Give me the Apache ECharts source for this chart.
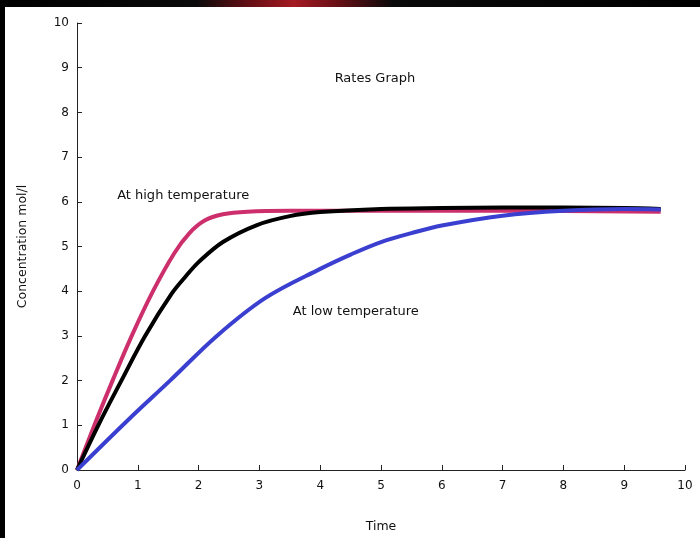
<!DOCTYPE html>
<html><head><meta charset="utf-8">
<script src="https://cdn.jsdelivr.net/npm/echarts@6/dist/echarts.min.js"></script>
<style>html,body{margin:0;padding:0;background:#fff;}#c{width:700px;height:538px;}</style>
</head><body><div id="c"></div>
<script>
var xTicks = [0,1,2,3,4,5,6,7,8,9,10];
var yTicks = [0,1,2,3,4,5,6,7,8,9,10];
var highX = [0, 0.3, 0.6, 0.9, 1.25, 1.6, 1.85, 2.1, 2.4, 2.8, 3.5, 5, 7, 9.6];
var highY = [0, 1.05, 2.05, 3.0, 4.0, 4.85, 5.3, 5.58, 5.72, 5.78, 5.8, 5.8, 5.8, 5.78];
var midX = [0, 0.35, 0.73, 1.12, 1.56, 1.8, 2.0, 2.4, 2.96, 3.5, 4, 5, 6, 7, 8, 9, 9.6];
var midY = [0, 1, 2, 3, 3.95, 4.35, 4.65, 5.1, 5.48, 5.68, 5.77, 5.84, 5.86, 5.87, 5.87, 5.86, 5.84];
var lowX = [0, 0.84, 1.53, 2.3, 3.1, 4, 4.5, 5, 5.5, 6, 7, 8, 9, 9.6];
var lowY = [0, 1.12, 2, 3, 3.85, 4.5, 4.82, 5.1, 5.3, 5.47, 5.69, 5.8, 5.84, 5.83];
var title = "Rates Graph";
var xName = "Time";
var yName = "Concentration mol/l";
var highLabel = "At high temperature";
var lowLabel = "At low temperature";

function pairs(xs, ys){ return xs.map(function(x,i){return [x, ys[i]];}); }
var font = "'DejaVu Sans', sans-serif";
var chart = echarts.init(document.getElementById('c'));
var axisCommon = {
  axisLine:{show:true, onZero:false, lineStyle:{color:'#222', width:1}},
  axisTick:{show:true, inside:true, length:5, lineStyle:{color:'#222'}},
  splitLine:{show:false},
  axisLabel:{color:'#111', fontSize:12, fontFamily:font},
  nameTextStyle:{color:'#111', fontSize:12.5, fontFamily:font}
};
chart.setOption({
  backgroundColor:'#fff',
  animation:false,
  grid:{left:77, right:15, top:23, bottom:68},
  xAxis: Object.assign({type:'value', min:xTicks[0], max:xTicks[xTicks.length-1], interval:1,
    name:xName, nameLocation:'middle', nameGap:50}, axisCommon,
    {axisLabel:Object.assign({}, axisCommon.axisLabel, {margin:10})}),
  yAxis: Object.assign({type:'value', min:yTicks[0], max:yTicks[yTicks.length-1], interval:1,
    name:yName, nameLocation:'middle', nameGap:48}, axisCommon,
    {axisLabel:Object.assign({}, axisCommon.axisLabel, {margin:8})}),
  series:[
    {type:'line', data:pairs(lowX, lowY), smooth:0.35, showSymbol:false, lineStyle:{color:'#3a3fd0', width:4}, z:3},
    {type:'line', data:pairs(midX, midY), smooth:0.35, showSymbol:false, lineStyle:{color:'#000', width:4}, z:2},
    {type:'line', data:pairs(highX, highY), smooth:0.35, showSymbol:false, lineStyle:{color:'#cc2f6b', width:4}, z:1}
  ]
});
var pT = chart.convertToPixel({gridIndex:0}, [4.9, 8.75]);
var pH = chart.convertToPixel({gridIndex:0}, [0.66, 6.13]);
var pL = chart.convertToPixel({gridIndex:0}, [3.55, 3.55]);
chart.setOption({graphic:[
  {type:'rect', left:0, top:0, shape:{width:700, height:7}, style:{fill:new echarts.graphic.LinearGradient(0,0,1,0,[
    {offset:0, color:'#000'},{offset:0.28, color:'#0a0a0a'},{offset:0.36, color:'#6a0f16'},{offset:0.42, color:'#a41a22'},{offset:0.48, color:'#6a0f16'},{offset:0.56, color:'#0a0a0a'},{offset:1, color:'#000'}])}},
  {type:'rect', left:0, top:0, shape:{width:5, height:538}, style:{fill:'#000'}},
  {type:'text', x:pT[0], y:pT[1], style:{text:title, font:'13px '+font, fill:'#111', textAlign:'center', textVerticalAlign:'middle'}},
  {type:'text', x:pH[0], y:pH[1], style:{text:highLabel, font:'13px '+font, fill:'#111', textAlign:'left', textVerticalAlign:'middle'}},
  {type:'text', x:pL[0], y:pL[1], style:{text:lowLabel, font:'13px '+font, fill:'#111', textAlign:'left', textVerticalAlign:'middle'}}
]});
</script></body></html>
